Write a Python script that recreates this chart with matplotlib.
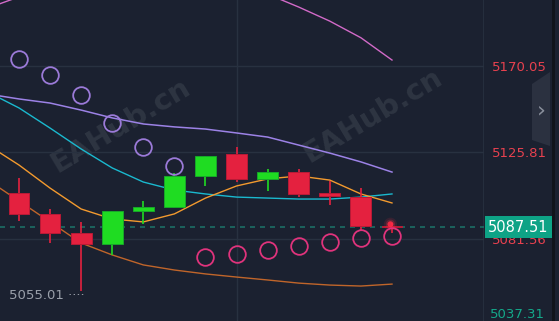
import numpy as np
import matplotlib.pyplot as plt
from matplotlib.patches import Rectangle, Polygon

# candle data (OHLC), one entry per bar
opens  = [5105.1, 5094.3, 5084.6, 5079.0, 5095.9, 5097.9, 5113.8, 5125.0, 5112.2, 5115.8, 5105.1, 5103.0, 5088.2]
highs  = [5112.8, 5096.9, 5090.2, 5096.0, 5101.0, 5115.3, 5124.0, 5128.6, 5117.4, 5117.4, 5111.2, 5107.6, 5089.7]
lows   = [5090.8, 5079.5, 5055.01, 5073.4, 5089.2, 5097.4, 5108.7, 5110.7, 5106.1, 5103.0, 5099.0, 5086.2, 5084.6]
closes = [5094.3, 5084.6, 5079.0, 5095.9, 5097.9, 5113.8, 5124.0, 5112.2, 5115.8, 5104.6, 5103.5, 5088.2, 5087.51]

# indicator lines, bar -1 .. 12
bb_upper = [5199.7, 5205.4, 5211.9, 5215.5, 5213.6, 5212.5, 5212.1, 5211.9, 5209.5, 5206.8, 5200.2, 5193.0, 5184.5, 5173.1]
bb_mid   = [5155.7, 5153.2, 5151.1, 5147.5, 5143.5, 5140.4, 5138.9, 5137.8, 5135.8, 5133.7, 5129.6, 5125.5, 5121.0, 5115.8]
bb_lower = [5111.7, 5101.0, 5090.3, 5079.5, 5073.4, 5068.3, 5065.7, 5063.7, 5062.1, 5060.6, 5059.0, 5058.0, 5057.5, 5058.5]
ma_slow  = [5156.7, 5148.6, 5138.3, 5127.6, 5117.9, 5110.7, 5106.6, 5104.6, 5103.0, 5102.5, 5102.0, 5102.0, 5103.0, 5104.6]
ma_fast  = [5129.6, 5119.4, 5107.6, 5096.9, 5091.8, 5090.3, 5094.4, 5102.5, 5108.7, 5112.3, 5113.8, 5111.7, 5104.6, 5100.0]

# parabolic SAR
sar_above = [5173.6, 5165.4, 5155.2, 5140.9, 5128.6, 5118.9]
sar_below = [5072.4, 5073.9, 5076.0, 5078.0, 5080.0, 5082.1, 5083.1]

price_ticks = [5170.05, 5125.81, 5081.56]
tick_colors = ['#e8414f', '#e8414f', '#e8414f']
bottom_tick = 5037.31
last_price = 5087.51

bg = '#1b2130'
grid_c = '#283140'
red = '#e4213f'
green = '#1fdc22'

fig = plt.figure(figsize=(5.59, 3.21), dpi=100, facecolor=bg)
ax = fig.add_axes([0, 0, 484 / 559, 1])
ax.set_facecolor(bg)

xs = np.arange(len(opens))
xl = np.arange(-1, len(opens))

# grid
ax.set_yticks(price_ticks)
ax.set_yticklabels([f'{v:.2f}' for v in price_ticks])
ax.set_xticks([7])
ax.grid(True, color=grid_c, linewidth=1.0, zorder=0)
ax.tick_params(axis='x', length=0, labelbottom=False)
ax.yaxis.tick_right()
ax.tick_params(axis='y', length=0, pad=6, labelsize=9.5)
for lab, c in zip(ax.get_yticklabels(), tick_colors):
    lab.set_color(c)
for s in ax.spines.values():
    s.set_visible(False)
ax.axvline(14.96, color=grid_c, lw=1.2)

# watermarks
for wx, wy in [(0.25, 0.61), (0.77, 0.64)]:
    ax.text(wx, wy, 'EAHub.cn', transform=ax.transAxes, rotation=31,
            fontsize=21, fontweight='bold', color='#2e3542',
            ha='center', va='center', zorder=0.5, clip_on=True)

# lines
ax.plot(xl, bb_upper, color='#d26ac8', lw=1.0, zorder=2)
ax.plot(xl, bb_mid, color='#9c82e6', lw=1.1, zorder=2)
ax.plot(xl, bb_lower, color='#c0652a', lw=1.0, zorder=2)
ax.plot(xl, ma_slow, color='#1ab9cf', lw=1.0, zorder=2)
ax.plot(xl, ma_fast, color='#f39a2e', lw=1.0, zorder=3)

# candles
w = 0.67
for i in xs:
    o, h, l, c = opens[i], highs[i], lows[i], closes[i]
    up = c > o
    col = green if up else red
    edge = '#17a82a' if up else '#b91a36'
    ax.vlines(i, l, h, color=col, lw=1.2, zorder=4)
    ax.add_patch(Rectangle((i - w / 2, min(o, c)), w, max(abs(c - o), 0.6),
                           facecolor=col, edgecolor=edge, lw=0.7, zorder=5))

# glow on the live bar
n = len(opens) - 1
for s, a in [(90, 0.12), (45, 0.25), (18, 0.9)]:
    ax.scatter([n - 0.05], [highs[n] - 0.6], s=s, color='#ff2a45', alpha=a,
               edgecolors='none', zorder=6)

# SAR
ax.plot(xs[:len(sar_above)], sar_above, 'o', ms=12, mfc='none', mec='#9b7ad8',
        mew=1.3, zorder=6)
ax.plot(xs[-len(sar_below):], sar_below, 'o', ms=12, mfc='none', mec='#e0337c',
        mew=1.3, zorder=6)

# last price line
ax.axhline(last_price, color='#1b6f66', lw=1.2, ls=(0, (3, 3)), zorder=3)
ax.annotate(f'{last_price:.2f}', xy=(1.0, last_price),
            xycoords=ax.get_yaxis_transform(), xytext=(3.0, 0),
            textcoords='offset points', ha='left', va='center',
            fontsize=10.5, color='white', annotation_clip=False, zorder=20,
            bbox=dict(boxstyle='square,pad=0.24', fc='#0ea386', ec='none'))

# bottom price label, pinned inside the chart edge
fig.text(490 / 559, 1 - 315 / 321, f'{bottom_tick:.2f}', color='#14a88a',
         fontsize=9.5, ha='left', va='center')

# lowest low label
ilow = int(np.argmin(lows))
ax.annotate(f'{lows[ilow]:.2f}' + ' \u00b7\u00b7\u00b7\u00b7', xy=(ilow, lows[ilow]),
            xytext=(-52, -3), textcoords='offset points', ha='left', va='center',
            fontsize=9.5, color='#9aa0aa', zorder=7)

ax.set_xlim(-0.611, 14.96)
ax.set_ylim(5039.62, 5203.81)

# side tab with chevron
fig.add_artist(Polygon([[532 / 559, 1 - 84 / 321], [550 / 559, 1 - 72 / 321],
                        [550 / 559, 1 - 146 / 321], [532 / 559, 1 - 140 / 321]],
                       closed=True, transform=fig.transFigure, fc='#2b3140',
                       ec='none', zorder=30))
fig.text(541 / 559, 1 - 110 / 321, '\u203a', color='#8a909c', fontsize=16,
         ha='center', va='center', zorder=31)
fig.add_artist(Rectangle((552 / 559, 0), 3 / 559, 1, transform=fig.transFigure,
                         fc='#11141b', ec='none', zorder=30))

fig.savefig('out.png', dpi=100, facecolor=bg)
